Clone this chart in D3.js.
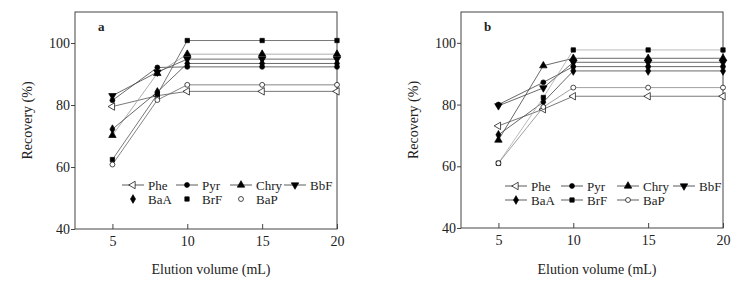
<!DOCTYPE html>
<html>
<head>
<meta charset="utf-8">
<script src="https://cdn.jsdelivr.net/npm/d3@7"></script>
<style>
  body { margin: 0; background: #fff; }
  text { font-family: "Liberation Serif", "Times New Roman", serif; fill: #222; }
</style>
</head>
<body>
<div id="chart"></div>
<script>
// elution volumes (mL)
const volumes = [5, 8, 10, 15, 20];
const compounds = ["Phe", "Pyr", "Chry", "BbF", "BaA", "BrF", "BaP"];
const xTicks = [5, 10, 15, 20];
const yTicks = [40, 60, 80, 100];

// panel a recoveries (%)
const pheA  = [79.5, 83.0, 84.4, 84.4, 84.4];
const pyrA  = [81.5, 92.1, 92.3, 92.3, 92.3];
const chryA = [70.2, 90.2, 96.4, 96.4, 96.4];
const bbfA  = [83.0, 90.6, 94.8, 94.8, 94.8];
const baaA  = [72.2, 84.2, 93.4, 93.4, 93.4];
const brfA  = [62.4, 83.4, 100.8, 100.8, 100.8];
const bapA  = [60.8, 81.6, 86.5, 86.5, 86.5];

// panel b recoveries (%)
const pheB  = [73.1, 78.5, 82.7, 82.7, 82.7];
const pyrB  = [80.0, 87.2, 92.3, 92.3, 92.3];
const chryB = [68.5, 92.6, 95.0, 95.0, 95.0];
const bbfB  = [79.6, 85.4, 93.7, 93.7, 93.7];
const baaB  = [70.2, 80.8, 90.9, 90.9, 90.9];
const brfB  = [61.0, 82.3, 97.7, 97.7, 97.7];
const bapB  = [61.0, 79.2, 85.5, 85.5, 85.5];

const W = 748, H = 283;
const svg = d3.select("#chart").append("svg")
    .attr("width", W).attr("height", H);

// marker styles per compound
const markers = {
    Phe:  {type: d3.symbolTriangle, rot: -90, fill: "#fff", size: 24},
    Pyr:  {type: d3.symbolCircle,   rot: 0,   fill: "#000", size: 19},
    Chry: {type: d3.symbolTriangle, rot: 0,   fill: "#000", size: 24},
    BbF:  {type: d3.symbolTriangle, rot: 180, fill: "#000", size: 24},
    BaA:  {type: d3.symbolDiamond,  rot: 0,   fill: "#000", size: 22},
    BrF:  {type: d3.symbolSquare,   rot: 0,   fill: "#000", size: 19},
    BaP:  {type: d3.symbolCircle,   rot: 0,   fill: "#fff", size: 19}
};
const lineColors = {Phe: "#555", Pyr: "#444", Chry: "#999", BbF: "#444", BaA: "#444", BrF: "#555", BaP: "#666"};
const lineColorsB = {Phe: "#555", Pyr: "#444", Chry: "#444", BbF: "#444", BaA: "#444", BrF: "#aaa", BaP: "#888"};

function drawMarker(g, name, x, y) {
    const m = markers[name];
    g.append("path")
        .attr("d", d3.symbol().type(m.type).size(m.size)())
        .attr("transform", `translate(${x},${y}) rotate(${m.rot})`)
        .attr("fill", m.fill)
        .attr("stroke", "#000")
        .attr("stroke-width", 0.7);
}

function drawPanel(opts, series, colors) {
    let x = d3.scaleLinear().domain([2.5, 20]).range([opts.left, opts.right]);
    let y = d3.scaleLinear().domain([40, 110]).range([opts.bottom, opts.top]);

    let g = svg.append("g");

    // frame
    g.append("rect")
        .attr("x", opts.left).attr("y", opts.top)
        .attr("width", opts.right - opts.left).attr("height", opts.bottom - opts.top)
        .attr("fill", "none").attr("stroke", "#444").attr("stroke-width", 1);

    // y axis (outward ticks)
    let yAxis = g.append("g")
        .attr("transform", `translate(${opts.left},0)`)
        .call(d3.axisLeft(y).tickValues(yTicks).tickSize(4).tickPadding(1));
    yAxis.select(".domain").remove();
    yAxis.selectAll("line").attr("stroke", "#444");
    yAxis.selectAll("text").style("font-size", "14px").attr("fill", "#222")
        .style("font-family", '"Liberation Serif", serif');

    // x axis (inward ticks)
    let xAxis = g.append("g")
        .attr("transform", `translate(0,${opts.bottom})`)
        .call(d3.axisBottom(x).tickValues(xTicks).tickSize(-5).tickPadding(7));
    xAxis.select(".domain").remove();
    xAxis.selectAll("line").attr("stroke", "#444");
    xAxis.selectAll("text").style("font-size", "14px").attr("fill", "#222")
        .style("font-family", '"Liberation Serif", serif');

    // titles
    g.append("text")
        .attr("x", (opts.left + opts.right) / 2 + 5).attr("y", 274)
        .attr("text-anchor", "middle").style("font-size", "14px")
        .text("Elution volume (mL)");
    g.append("text")
        .attr("transform", `translate(${opts.left - 43},${(opts.top + opts.bottom) / 2}) rotate(-90)`)
        .attr("text-anchor", "middle").style("font-size", "14px")
        .text("Recovery (%)");
    g.append("text")
        .attr("x", opts.left + 23).attr("y", 31)
        .style("font-size", "13px").style("font-weight", "bold")
        .text(opts.label);

    // lines
    let line = d3.line().x((d, i) => x(volumes[i])).y(d => y(d));
    compounds.forEach(function(name, k) {
        g.append("path")
            .datum(series[k])
            .attr("d", line)
            .attr("fill", "none")
            .attr("stroke", colors[name])
            .attr("stroke-width", 0.8);
    });
    compounds.forEach(function(name, k) {
        series[k].forEach(function(v, i) {
            drawMarker(g, name, x(volumes[i]), y(v));
        });
    });

    // legend
    let lg = opts.legend;
    compounds.forEach(function(name, k) {
        let row = k < 4 ? 0 : 1;
        let col = k < 4 ? k : k - 4;
        let lx = lg.x + col * lg.dx;
        let ly = lg.y + row * lg.dy;
        if (row === 0 || lg.lines2) {
            g.append("line")
                .attr("x1", lx).attr("x2", lx + 22)
                .attr("y1", ly).attr("y2", ly)
                .attr("stroke", "#333").attr("stroke-width", 0.8);
        }
        drawMarker(g, name, lx + 11, ly);
        g.append("text")
            .attr("x", lx + 26).attr("y", ly + 4.5)
            .style("font-size", "13px")
            .text(name);
    });
}

drawPanel({left: 75, right: 337, top: 12, bottom: 229, label: "a",
           legend: {x: 122, y: 185, dx: 54, dy: 14, lines2: false}},
          [pheA, pyrA, chryA, bbfA, baaA, brfA, bapA], lineColors);

drawPanel({left: 461, right: 723, top: 12, bottom: 228, label: "b",
           legend: {x: 505, y: 186, dx: 56, dy: 14, lines2: true}},
          [pheB, pyrB, chryB, bbfB, baaB, brfB, bapB], lineColorsB);
</script>
</body>
</html>
